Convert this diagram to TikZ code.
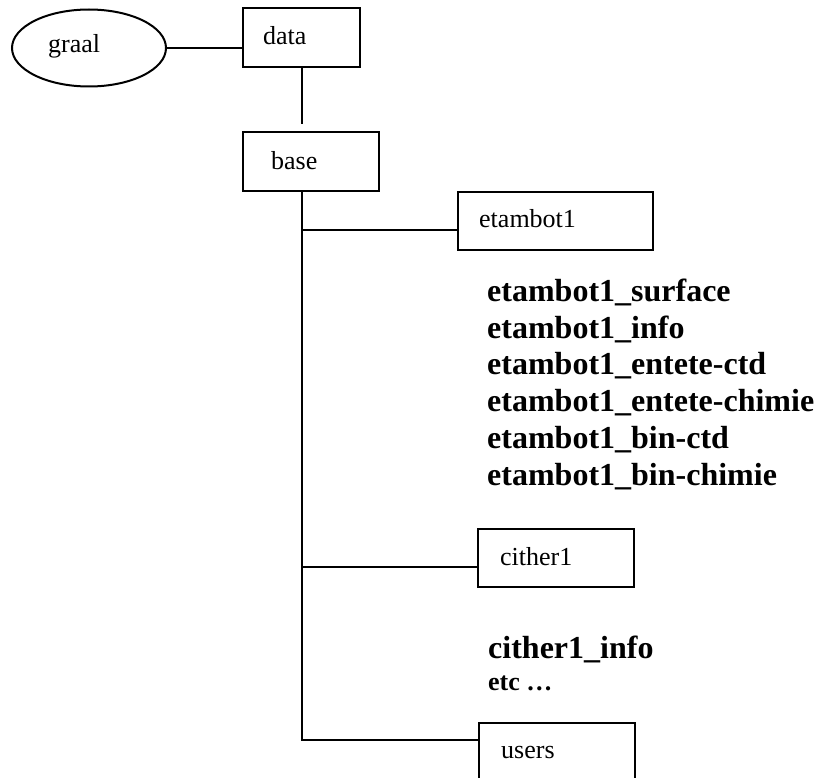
\documentclass[tikz,border=0pt]{standalone}
\usepackage{fontspec}
\setmainfont{Liberation Serif}
\usetikzlibrary{shapes.geometric}
\begin{document}
\begin{tikzpicture}[x=1pt,y=-1pt,
  boxstyle/.style={draw,line width=2pt,rectangle,inner sep=0pt,minimum height=58pt},
  lbl/.style={anchor=base west,inner sep=0pt,font=\fontsize{26}{30}\selectfont},
  blist/.style={anchor=base west,inner sep=0pt,font=\fontsize{32}{36}\selectfont\bfseries},
  conn/.style={line width=2pt}]
\useasboundingbox (0,0) rectangle (815,778);
\clip (0,0) rectangle (815,778);
% shapes
\node[draw,ellipse,line width=2pt,inner sep=0pt,minimum width=154pt,minimum height=77pt] (graal) at (89,48) {};
\node[boxstyle,minimum width=117pt,minimum height=59pt] (data) at (301.5,37.5) {};
\node[boxstyle,minimum width=136pt,minimum height=59pt] (base) at (311,161.5) {};
\node[boxstyle,minimum width=195pt] (etambot) at (555.5,221) {};
\node[boxstyle,minimum width=156pt] (cither) at (556,558) {};
\node[boxstyle,minimum width=156pt] (users) at (557,752) {};
% labels
\node[lbl] (graallbl) at (48,53) {graal};
\node[lbl] (datalbl) at (263,45) {data};
\node[lbl] (baselbl) at (271,170) {base};
\node[lbl] (etambotlbl) at (479,228) {etambot1};
\node[lbl] (citherlbl) at (500,565) {cither1};
\node[lbl] (userslbl) at (501,758) {users};
% lists
\node[blist] (l1) at (487,302) {etambot1\_surface};
\node[blist] (l2) at (487,339) {etambot1\_info};
\node[blist] (l3) at (487,375) {etambot1\_entete-ctd};
\node[blist] (l4) at (487,412) {etambot1\_entete-chimie};
\node[blist] (l5) at (487,449) {etambot1\_bin-ctd};
\node[blist] (l6) at (487,485) {etambot1\_bin-chimie};
\node[blist] (c1) at (488,658) {cither1\_info};
\node[blist,font=\fontsize{26}{30}\selectfont\bfseries] (c2) at (488,690) {etc \dots};
% connectors
\coordinate (trunktop) at (data.south |- base.south);
\coordinate (bet) at ([yshift=-9pt]etambot.west);
\coordinate (bci) at ([yshift=-9pt]cither.west);
\coordinate (bus) at ([yshift=-18pt]users.north west);
\coordinate (trunkbot) at (trunktop |- bus);
\draw[conn] (graal.east) -- (data.west |- graal.east);
\draw[conn] (data.south) -- ([yshift=7pt]data.south |- base.north);
\draw[conn] (trunktop) -- (trunkbot) -- (bus);
\draw[conn] (trunktop |- bet) -- (bet);
\draw[conn] (trunktop |- bci) -- (bci);
\end{tikzpicture}
\end{document}
